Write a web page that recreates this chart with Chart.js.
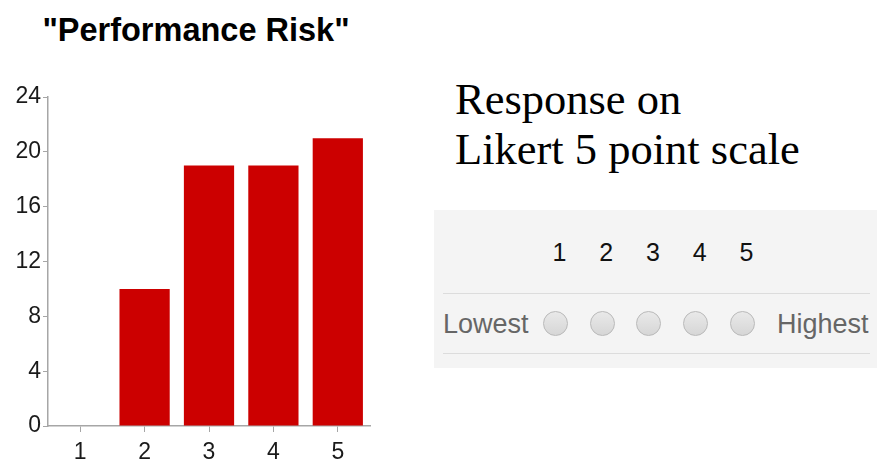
<!DOCTYPE html>
<html>
<head>
<meta charset="utf-8">
<script src="https://cdn.jsdelivr.net/npm/chart.js@4/dist/chart.umd.min.js"></script>
<style>
  html, body { margin: 0; padding: 0; background: #fff; }
  body { width: 877px; height: 459px; overflow: hidden; position: relative; font-family: "Liberation Sans", Arial, sans-serif; }
  .chart-title { position: absolute; left: 0; top: 11px; width: 392px; text-align: center; font-size: 32.5px; line-height: 38px; font-weight: bold; color: #000; }
  .chart-box { position: absolute; left: 0; top: 0; width: 392px; height: 478px; }
  .heading { position: absolute; left: 455px; top: 74px; font-family: "Liberation Serif", "Times New Roman", serif; font-size: 44.5px; line-height: 50px; color: #000; white-space: nowrap; }
  .panel { position: absolute; left: 434px; top: 210px; width: 443px; height: 158px; background: #f4f4f4; }
  .row { position: absolute; display: flex; }
  .row span { display: block; width: 46.75px; text-align: center; }
  .nums { left: 102px; top: 28px; font-size: 25px; line-height: 28px; color: #111; }
  .rule { position: absolute; left: 9px; width: 427px; height: 1px; background: #dcdcdc; }
  .side { position: absolute; font-size: 27px; line-height: 30px; color: #666; }
  .dots { left: 98px; top: 101px; }
  .dot { width: 46.75px; height: 26px; display: flex; justify-content: center; }
  .dot i { display: block; width: 23px; height: 23px; border-radius: 50%; border: 1px solid #b9b9b9; background: linear-gradient(#e9e9e9, #d6d6d6); }
</style>
</head>
<body>
<div class="chart-title" id="chart-title"></div>
<div class="chart-box"><canvas id="chart-risk"></canvas></div>

<div class="heading">Response on<br>Likert 5 point scale</div>

<div class="panel">
  <div class="row nums" id="likert-nums"></div>
  <div class="rule" style="top:83px"></div>
  <div class="side" style="left:9px; top:99px">Lowest</div>
  <div class="row dots" id="likert-dots"></div>
  <div class="side" style="left:343px; top:99px">Highest</div>
  <div class="rule" style="top:143px"></div>
</div>

<script>
const categories = ['1', '2', '3', '4', '5'];
const responses = [0, 10, 19, 19, 21];
const yTicks = [0, 4, 8, 12, 16, 20, 24];
const chartTitle = '"Performance Risk"';

document.getElementById('chart-title').textContent = chartTitle;

// Likert scale widget
document.getElementById('likert-nums').innerHTML = categories.map((c) => `<span>${c}</span>`).join('');
document.getElementById('likert-dots').innerHTML = categories.map(() => '<div class="dot"><i></i></div>').join('');

const axisGrey = '#a6a6a6';
const tickFont = { family: '"Liberation Sans", Arial, sans-serif', size: 23 };

new Chart(document.getElementById('chart-risk'), {
  type: 'bar',
  data: {
    labels: categories,
    datasets: [
      {
        label: 'Responses',
        data: responses,
        backgroundColor: '#cc0000',
        barPercentage: 0.78,
        categoryPercentage: 1,
      },
    ],
  },
  options: {
    responsive: true,
    maintainAspectRatio: false,
    animation: false,
    layout: { padding: { left: 0, right: 22, top: 97, bottom: 0 } },
    plugins: {
      legend: { display: false },
      tooltip: { enabled: false },
    },
    scales: {
      y: {
        min: 0,
        max: yTicks[yTicks.length - 1],
        afterBuildTicks: (scale) => { scale.ticks = yTicks.map((v) => ({ value: v })); },
        afterFit: (scale) => { scale.width = 48; },
        border: { color: axisGrey, width: 1.5 },
        grid: { drawOnChartArea: false, tickLength: 5, tickColor: axisGrey },
        ticks: { color: '#1a1a1a', padding: 2, font: tickFont },
      },
      x: {
        afterFit: (scale) => { scale.height = 52; },
        border: { color: axisGrey, width: 1.5 },
        grid: { drawOnChartArea: false, tickLength: 6, tickColor: axisGrey, offset: false },
        ticks: { color: '#1a1a1a', padding: 7, font: tickFont },
      },
    },
  },
});
</script>
</body>
</html>
